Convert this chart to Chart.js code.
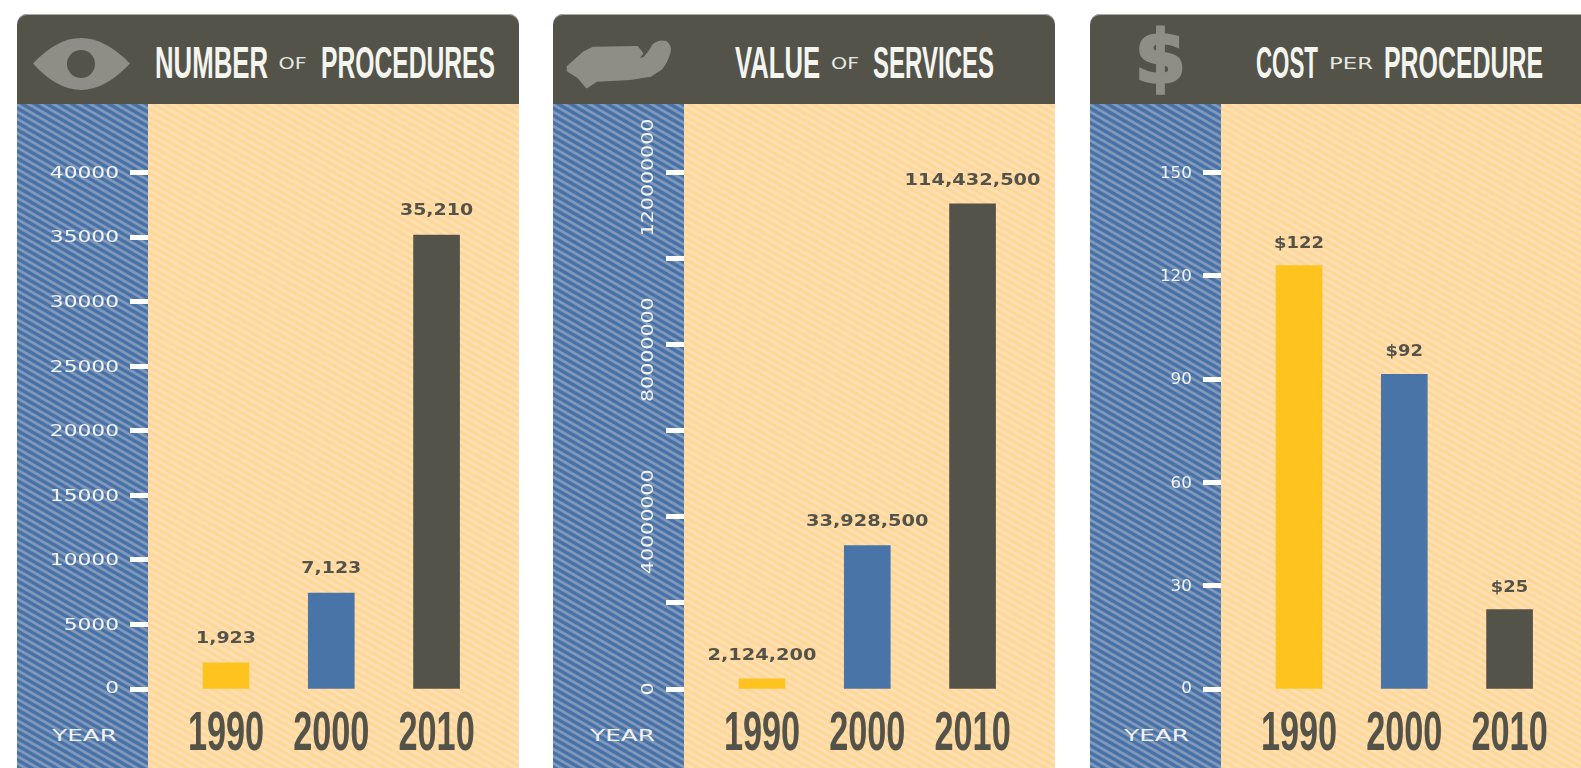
<!DOCTYPE html>
<html><head><meta charset="utf-8">
<style>
html,body{margin:0;padding:0;width:1581px;height:768px;overflow:hidden;background:#fff}
.panel{position:absolute;top:14px;width:502px;height:754px;overflow:hidden;border-radius:10px 10px 0 0;background:#53534a;box-shadow:inset 0 1px 0 #aaa}
.strip{position:absolute;left:0;top:90px;width:131px;bottom:0;background:repeating-linear-gradient(30deg,#4672a8 0,#4672a8 2.2px,#8299bb 3.4px,#8299bb 5px,#4672a8 6.2px)}
.tan{position:absolute;left:131px;top:90px;right:0;bottom:0;background:repeating-linear-gradient(30deg,#ffd798 0,#ffd798 2.2px,#ffe0b4 3.4px,#ffe0b4 5px,#ffd798 6.2px)}
canvas,svg{position:absolute;left:0;top:0}
.big{font:bold 44px "Liberation Sans";fill:#f5f5ef}
.small{font:15px "DejaVu Sans";fill:#e8e8e2}
.year{font:15px "DejaVu Sans";fill:#f2f2f2}
.icon{fill:#8e8e86}
</style></head>
<body>
<div class="panel" style="left:17px"><div class="strip"></div><div class="tan"></div>
<svg width="502" height="754">
<path class="icon" d="M16,49.5 Q40,24 64,24 Q88,24 113,49.5 Q88,76 64,76 Q40,76 16,49.5 Z"/><circle cx="64" cy="50" r="14" fill="#53534a"/>
<text class="big" x="138" y="64" textLength="113" lengthAdjust="spacingAndGlyphs">NUMBER</text>
<text class="small" x="261.5" y="55" textLength="28" lengthAdjust="spacingAndGlyphs">OF</text>
<text class="big" x="304" y="64" textLength="174" lengthAdjust="spacingAndGlyphs">PROCEDURES</text>
<text class="year" x="35" y="726.5" textLength="65" lengthAdjust="spacingAndGlyphs">YEAR</text>
</svg><canvas id="c1" width="502" height="754"></canvas></div>

<div class="panel" style="left:553px"><div class="strip"></div><div class="tan"></div>
<svg width="502" height="754">
<path class="icon" stroke="#8e8e86" stroke-width="2" stroke-linejoin="round" d="M14.7,52.7 L30.3,38.7 L40.3,33.7 L84.3,33 L89.3,39.3 L84,45.5 L91,44 Q97,38 100.3,31 Q106,26 113,28 Q118,32 116.7,38 Q114,48 108,55 L97.7,61.7 L77,65 L43.7,66.7 L33.7,73.3 L25.3,63.3 L14.7,56.7 Z"/>
<text class="big" x="182" y="64" textLength="85" lengthAdjust="spacingAndGlyphs">VALUE</text>
<text class="small" x="278" y="55" textLength="28" lengthAdjust="spacingAndGlyphs">OF</text>
<text class="big" x="320" y="64" textLength="121" lengthAdjust="spacingAndGlyphs">SERVICES</text>
<text class="year" x="37" y="726.5" textLength="65" lengthAdjust="spacingAndGlyphs">YEAR</text>
</svg><canvas id="c2" width="502" height="754"></canvas></div>

<div class="panel" style="left:1090px"><div class="strip"></div><div class="tan"></div>
<svg width="502" height="754">
<text class="icon" stroke="#8e8e86" stroke-width="3" x="70.5" y="69" text-anchor="middle" style="font:bold 73px 'DejaVu Sans'">$</text>
<text class="big" x="166" y="64" textLength="62" lengthAdjust="spacingAndGlyphs">COST</text>
<text class="small" x="239" y="55" textLength="44" lengthAdjust="spacingAndGlyphs">PER</text>
<text class="big" x="294" y="64" textLength="159" lengthAdjust="spacingAndGlyphs">PROCEDURE</text>
<text class="year" x="34" y="726.5" textLength="65" lengthAdjust="spacingAndGlyphs">YEAR</text>
</svg><canvas id="c3" width="502" height="754"></canvas></div>

<script src="https://cdn.jsdelivr.net/npm/chart.js@4"></script>
<script>
const years = [1990, 2000, 2010];
const barColors = ['#fec31e', '#4874a8', '#53534a'];

// Bar heights as drawn in the picture, against each panel's own axis
const procedures = [2030, 7420, 35160];
const services = [2340000, 33300000, 112700000];
const costs = [123, 91.4, 23.1];

// Figures printed above the bars
const procedureLabels = ['1,923', '7,123', '35,210'];
const serviceLabels = ['2,124,200', '33,928,500', '114,432,500'];
const costLabels = ['$122', '$92', '$25'];

function stretchLabels(scale, kx, ky, align, dy) {
  const ctx = scale.ctx;
  scale.getLabelItems().forEach(it => {
    if (it._stretched) return;
    const t = it.options.translation;
    const shift = it.label === '0' ? 0 : (dy || 0);
    it.options.translation = [t[0] / kx, (t[1] + shift) / ky];
    if (align) it.options.textAlign = align;
    it._stretched = true;
  });
  if (!scale._stretchWrapped) {
    const orig = scale.drawLabels;
    scale.drawLabels = function (a) { ctx.save(); ctx.scale(kx, ky); orig.call(this, a); ctx.restore(); };
    scale._computeLabelArea = () => undefined;
    scale._stretchWrapped = true;
  }
}

function panel(id, values, printed, yMax, yStep, yFormat, cfg) {
  new Chart(document.getElementById(id), {
    type: 'bar',
    data: { datasets: [{ data: years.map((y, i) => ({ x: y, y: values[i] })), backgroundColor: barColors, barThickness: 46 }] },
    options: {
      responsive: false, animation: false, events: [],
      layout: { padding: { top: 158.5, left: 0, right: 0, bottom: 0 } },
      plugins: { legend: { display: false }, tooltip: { enabled: false } },
      scales: {
        x: {
          type: 'linear', min: 1982.59, max: 2017.83, offset: false,
          grid: { display: false }, border: { display: false },
          afterBuildTicks: s => { s.ticks = years.map(v => ({ value: v })); },
          afterFit: s => { s.height = 79; },
          ticks: { autoSkip: false, maxRotation: 0, padding: 4, color: '#53534a', font: { family: 'Liberation Sans', weight: 'bold', size: 56 }, callback: v => String(v) }
        },
        y: {
          min: 0, max: yMax,
          grid: { drawOnChartArea: false, drawTicks: true, tickLength: 18, tickWidth: 5, tickColor: '#ffffff' },
          border: { display: false },
          afterFit: s => { s.width = 131; },
          ticks: Object.assign({ stepSize: yStep, autoSkip: false, color: '#f4f4f4', font: { family: 'DejaVu Sans', size: 15 }, padding: cfg.yPad, callback: yFormat }, cfg.rotate ? { minRotation: 90, maxRotation: 90 } : {})
        }
      }
    },
    plugins: [{
      id: 'stretchedText',
      beforeDraw(chart) {
        stretchLabels(chart.scales.x, 0.612, 1);
        if (cfg.rotate) stretchLabels(chart.scales.y, 1, cfg.yK, 'center', 5);
        else stretchLabels(chart.scales.y, cfg.yK, 1, null, 1.5);
      },
      afterDatasetsDraw(chart) {
        const ctx = chart.ctx, k = cfg.labelK;
        ctx.save();
        ctx.font = 'bold 16px "DejaVu Sans"';
        ctx.fillStyle = '#53534a';
        ctx.textAlign = 'center';
        ctx.textBaseline = 'middle';
        chart.getDatasetMeta(0).data.forEach((bar, i) => {
          ctx.save(); ctx.scale(k, 1);
          ctx.fillText(printed[i], bar.x / k, bar.y - cfg.labelGap);
          ctx.restore();
        });
        ctx.restore();
      }
    }]
  });
}

panel('c1', procedures, procedureLabels, 40000, 5000, v => String(v), { yPad: 11, yK: 1.45, labelK: 1.185, labelGap: 24 });
panel('c2', services, serviceLabels, 120000000, 20000000, v => (v % 40000000 === 0 ? String(v) : ''), { yPad: 16.6, yK: 1.37, rotate: true, labelK: 1.21, labelGap: 23.5 });
panel('c3', costs, costLabels, 150, 30, v => String(v), { yPad: 11, yK: 1.12, labelK: 1.12, labelGap: 22 });
</script>
</body></html>
